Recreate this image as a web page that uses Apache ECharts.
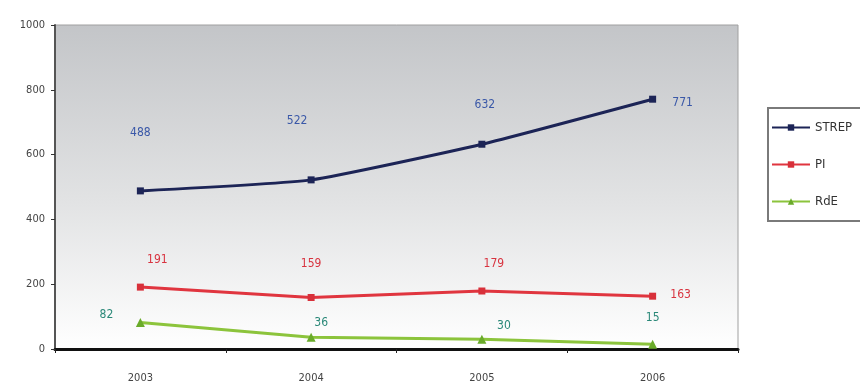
<!DOCTYPE html>
<html>
<head>
<meta charset="utf-8">
<script src="https://cdn.jsdelivr.net/npm/echarts@6/dist/echarts.min.js"></script>
<style>
  html, body { margin: 0; padding: 0; background: #ffffff; }
  #chart { width: 860px; height: 387px; }
</style>
</head>
<body>
<div id="chart"></div>
<script>
// Years on the horizontal axis
const years = ['2003', '2004', '2005', '2006'];

// Project counts per instrument
const strep = [488, 522, 632, 771];
const pi = [191, 159, 179, 163];
const rde = [82, 36, 30, 15];

const seriesNames = ['STREP', 'PI', 'RdE'];

// Label placement (centre offset from each point, in pixels)
const strepOffsets = [[0, -58], [-14, -59], [3, -39], [30, 4]];
const piOffsets = [[17, -27], [0, -34], [12, -27], [28, -1]];
const rdeOffsets = [[-34, -8], [10, -14], [22, -13], [0, -26]];

const labelFont = '"DejaVu Sans Condensed", "Liberation Sans Narrow", Arial, sans-serif';

function withLabels(values, offsets, color) {
  return values.map((v, i) => ({
    value: v,
    label: {
      show: true,
      position: 'inside',
      offset: offsets[i],
      align: 'center',
      verticalAlign: 'middle',
      color: color,
      fontSize: 12,
      fontFamily: labelFont
    }
  }));
}

const chart = echarts.init(document.getElementById('chart'));
chart.setOption({
  animation: false,
  backgroundColor: '#ffffff',
  grid: {
    left: 55,
    top: 25,
    right: 122,
    bottom: 38,
    show: true,
    borderColor: '#a0a0a0',
    borderWidth: 1,
    backgroundColor: {
      type: 'linear', x: 0, y: 0, x2: 0, y2: 1,
      colorStops: [
        { offset: 0, color: '#c3c5c8' },
        { offset: 0.55, color: '#e2e3e4' },
        { offset: 1, color: '#ffffff' }
      ]
    }
  },
  legend: {
    orient: 'vertical',
    left: 768,
    top: 108,
    data: seriesNames,
    itemWidth: 38,
    itemHeight: 8,
    itemGap: 24,
    padding: [13, 40, 13, 3],
    borderColor: '#7a7a7a',
    borderWidth: 2,
    backgroundColor: '#ffffff',
    textStyle: { fontSize: 13, color: '#333', fontFamily: labelFont }
  },
  xAxis: {
    type: 'category',
    data: years,
    boundaryGap: true,
    axisLine: { lineStyle: { color: '#111', width: 3 } },
    axisTick: { show: true, length: 4, lineStyle: { color: '#222' } },
    axisLabel: { color: '#444', fontSize: 11, margin: 24, fontFamily: labelFont },
    splitLine: { show: false }
  },
  yAxis: {
    type: 'value',
    min: 0,
    max: 1000,
    interval: 200,
    axisLine: { show: true, lineStyle: { color: '#555', width: 2 } },
    axisTick: { show: true, length: 4, lineStyle: { color: '#333' } },
    axisLabel: {
      color: '#444', fontSize: 11, margin: 10, fontFamily: labelFont,
      formatter: (v) => String(v)
    },
    splitLine: { show: false }
  },
  series: [
    {
      name: 'STREP',
      type: 'line',
      data: withLabels(strep, strepOffsets, '#3a58a8'),
      smooth: 0.15,
      symbol: 'rect',
      symbolSize: 7,
      itemStyle: { color: '#1c2456' },
      lineStyle: { color: '#1c2456', width: 3 }
    },
    {
      name: 'PI',
      type: 'line',
      data: withLabels(pi, piOffsets, '#d8333f'),
      symbol: 'rect',
      symbolSize: 7,
      itemStyle: { color: '#d8303a' },
      lineStyle: { color: '#e0353f', width: 3 }
    },
    {
      name: 'RdE',
      type: 'line',
      data: withLabels(rde, rdeOffsets, '#2a8878'),
      symbol: 'triangle',
      symbolSize: 9,
      itemStyle: { color: '#6aab2a' },
      lineStyle: { color: '#8cc43c', width: 3 }
    }
  ]
});
</script>
</body>
</html>
